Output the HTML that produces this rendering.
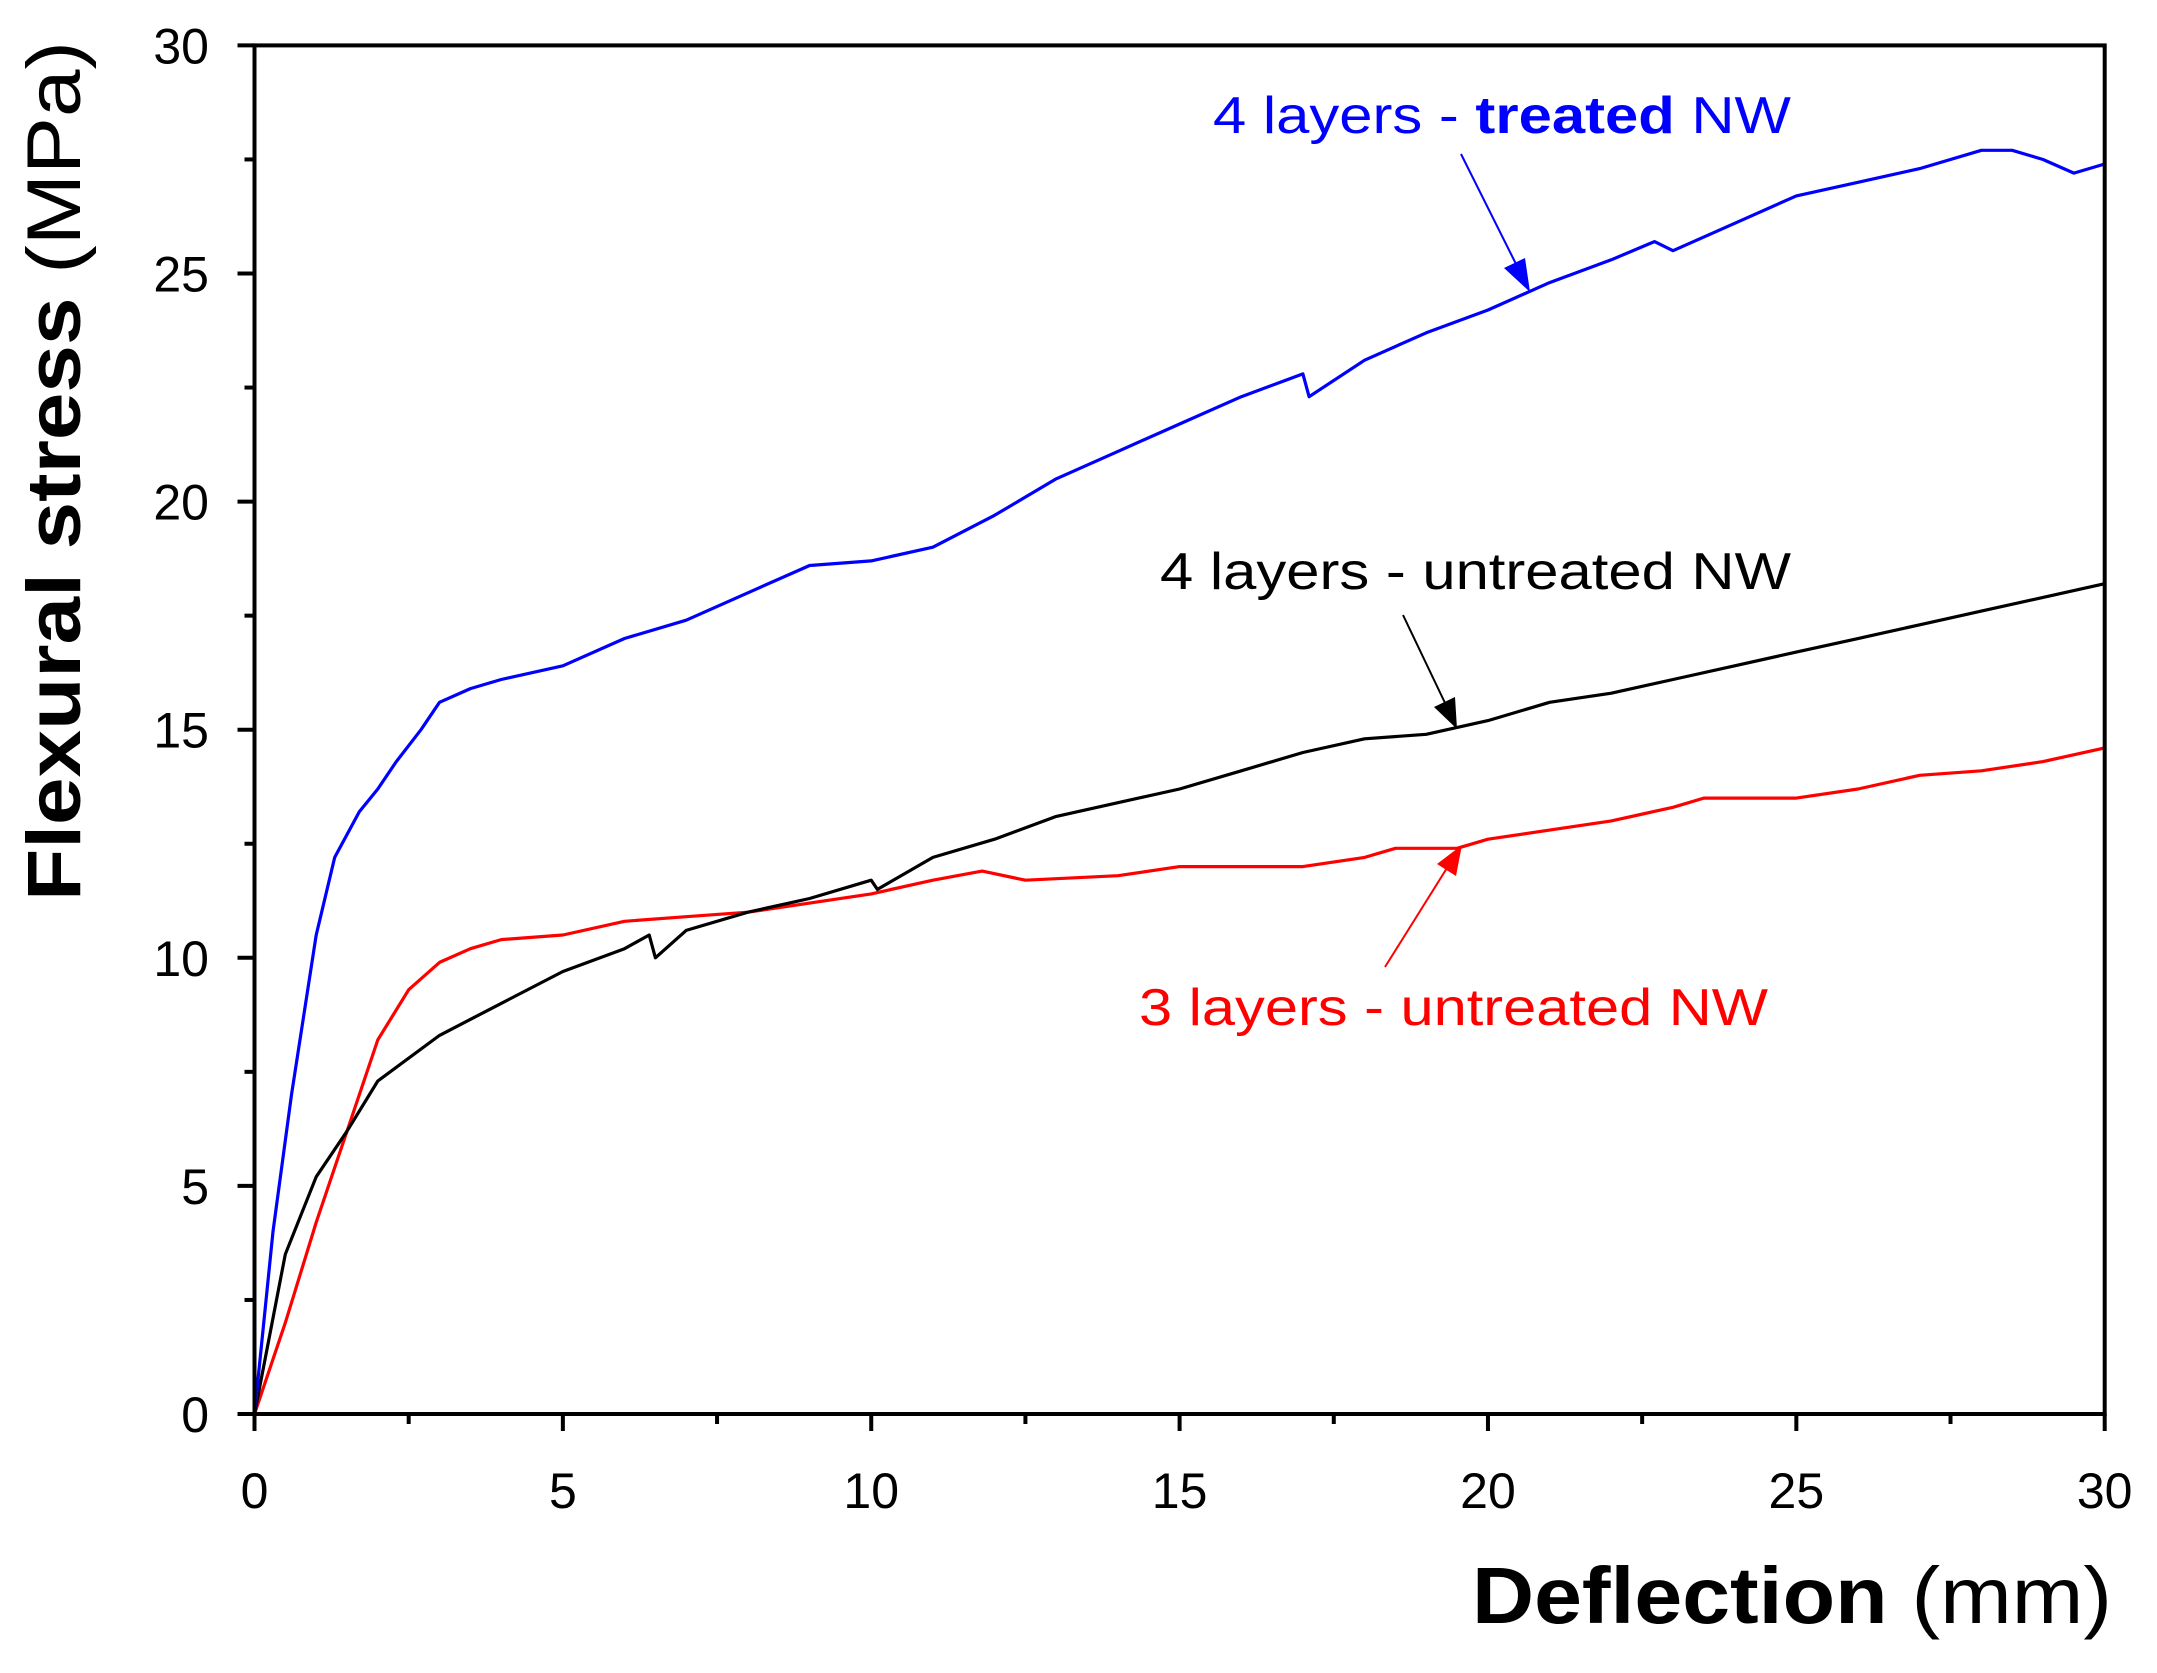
<!DOCTYPE html>
<html><head><meta charset="utf-8"><style>html,body{margin:0;padding:0;background:#fff}svg{display:block}text{font-family:"Liberation Sans",Arial,sans-serif}</style></head>
<body>
<svg id="chart" width="2157" height="1673" viewBox="0 0 2157 1673" xmlns="http://www.w3.org/2000/svg">
<g id="plot"></g>
<text x="1213" y="133" font-size="52" fill="#0000ff" textLength="578" lengthAdjust="spacingAndGlyphs">4 layers - <tspan font-weight="bold">treated</tspan> NW</text>
<text x="1160" y="589" font-size="52" fill="#000" textLength="631" lengthAdjust="spacingAndGlyphs">4 layers - untreated NW</text>
<text x="1139" y="1025" font-size="52" fill="#ff0000" textLength="629" lengthAdjust="spacingAndGlyphs">3 layers - untreated NW</text>
<g><line x1="1461" y1="154" x2="1517" y2="266" stroke="#0000ff" stroke-width="2"/><polygon points="1530,292 1504,268 1525,258" fill="#0000ff"/></g>
<g><line x1="1403" y1="615" x2="1446" y2="705" stroke="#000" stroke-width="2"/><polygon points="1457,729 1434,707 1455,697" fill="#000"/></g>
<g><line x1="1385" y1="967" x2="1447" y2="868" stroke="#ff0000" stroke-width="2"/><polygon points="1462,845 1456,876 1437,864" fill="#ff0000"/></g>
<text transform="translate(80,471) rotate(-90)" text-anchor="middle" font-size="76" textLength="860" lengthAdjust="spacingAndGlyphs"><tspan font-weight="bold">Flexural stress</tspan> (MPa)</text>
<text x="2112" y="1623" text-anchor="end" font-size="80" textLength="640" lengthAdjust="spacingAndGlyphs"><tspan font-weight="bold">Deflection</tspan> (mm)</text>
</svg>
<script>
const xTicks=[0,5,10,15,20,25,30];
const yTicks=[0,5,10,15,20,25,30];
const blueX=[0,0.3,0.6,1,1.3,1.7,2,2.3,2.7,3,3.5,4,5,6,7,8,9,10,11,12,13,14,15,16,17,17.1,18,19,20,21,22,22.7,23,24,25,26,27,28,28.5,29,29.5,30];
const blueY=[0,4,7,10.5,12.2,13.2,13.7,14.3,15,15.6,15.9,16.1,16.4,17,17.4,18,18.6,18.7,19,19.7,20.5,21.1,21.7,22.3,22.8,22.3,23.1,23.7,24.2,24.8,25.3,25.7,25.5,26.1,26.7,27,27.3,27.7,27.7,27.5,27.2,27.4];
const blackX=[0,0.5,1,1.5,2,3,4,5,6,6.4,6.5,7,8,9,10,10.1,11,12,13,14,15,16,17,18,19,20,21,22,23,24,25,26,27,28,29,30];
const blackY=[0,3.5,5.2,6.2,7.3,8.3,9,9.7,10.2,10.5,10,10.6,11,11.3,11.7,11.5,12.2,12.6,13.1,13.4,13.7,14.1,14.5,14.8,14.9,15.2,15.6,15.8,16.1,16.4,16.7,17,17.3,17.6,17.9,18.2];
const redX=[0,0.5,1,1.5,2,2.5,3,3.5,4,5,6,7,8,9,10,11,11.8,12.5,14,15,16,17,18,18.5,19.5,20,21,22,23,23.5,25,26,27,28,29,30];
const redY=[0,2,4.2,6.2,8.2,9.3,9.9,10.2,10.4,10.5,10.8,10.9,11,11.2,11.4,11.7,11.9,11.7,11.8,12,12,12,12.2,12.4,12.4,12.6,12.8,13,13.3,13.5,13.5,13.7,14,14.1,14.3,14.6];
const L=254.5,R=2104.7,T=45.4,B=1414;
const xs=v=>L+(v/30)*(R-L), ys=v=>B-(v/30)*(B-T);
const NS='http://www.w3.org/2000/svg';
const g=document.getElementById('plot');
function mk(t,a){const e=document.createElementNS(NS,t);for(const k in a)e.setAttribute(k,a[k]);g.appendChild(e);return e;}
function series(X,Y,c,n){const d=X.map((x,i)=>(i?'L':'M')+xs(x).toFixed(1)+','+ys(Y[i]).toFixed(1)).join('');
const p=mk('path',{d:d,fill:'none',stroke:c,'stroke-width':3.2,'stroke-linejoin':'round'});

}
series(redX,redY,'#ff0000','series-3-layers-untreated');
series(blackX,blackY,'#000000','series-4-layers-untreated');
series(blueX,blueY,'#0000ff','series-4-layers-treated');
const fr=mk('rect',{x:L,y:T,width:R-L,height:B-T,fill:'none',stroke:'#000','stroke-width':4});


xTicks.forEach((v,i)=>{const x=xs(v);mk('line',{x1:x,y1:B,x2:x,y2:B+17,stroke:'#000','stroke-width':4});
if(i<xTicks.length-1){const m=xs(v+2.5);mk('line',{x1:m,y1:B,x2:m,y2:B+10,stroke:'#000','stroke-width':4});}
const t=mk('text',{x:x,y:1508,'text-anchor':'middle','font-size':50});t.textContent=v;

});
yTicks.forEach((v,i)=>{const y=ys(v);mk('line',{x1:L-17,y1:y,x2:L,y2:y,stroke:'#000','stroke-width':4});
if(i<yTicks.length-1){const m=ys(v+2.5);mk('line',{x1:L-10,y1:m,x2:L,y2:m,stroke:'#000','stroke-width':4});}
const t=mk('text',{x:209,y:y+18,'text-anchor':'end','font-size':50});t.textContent=v;

});
</script>
</body></html>
